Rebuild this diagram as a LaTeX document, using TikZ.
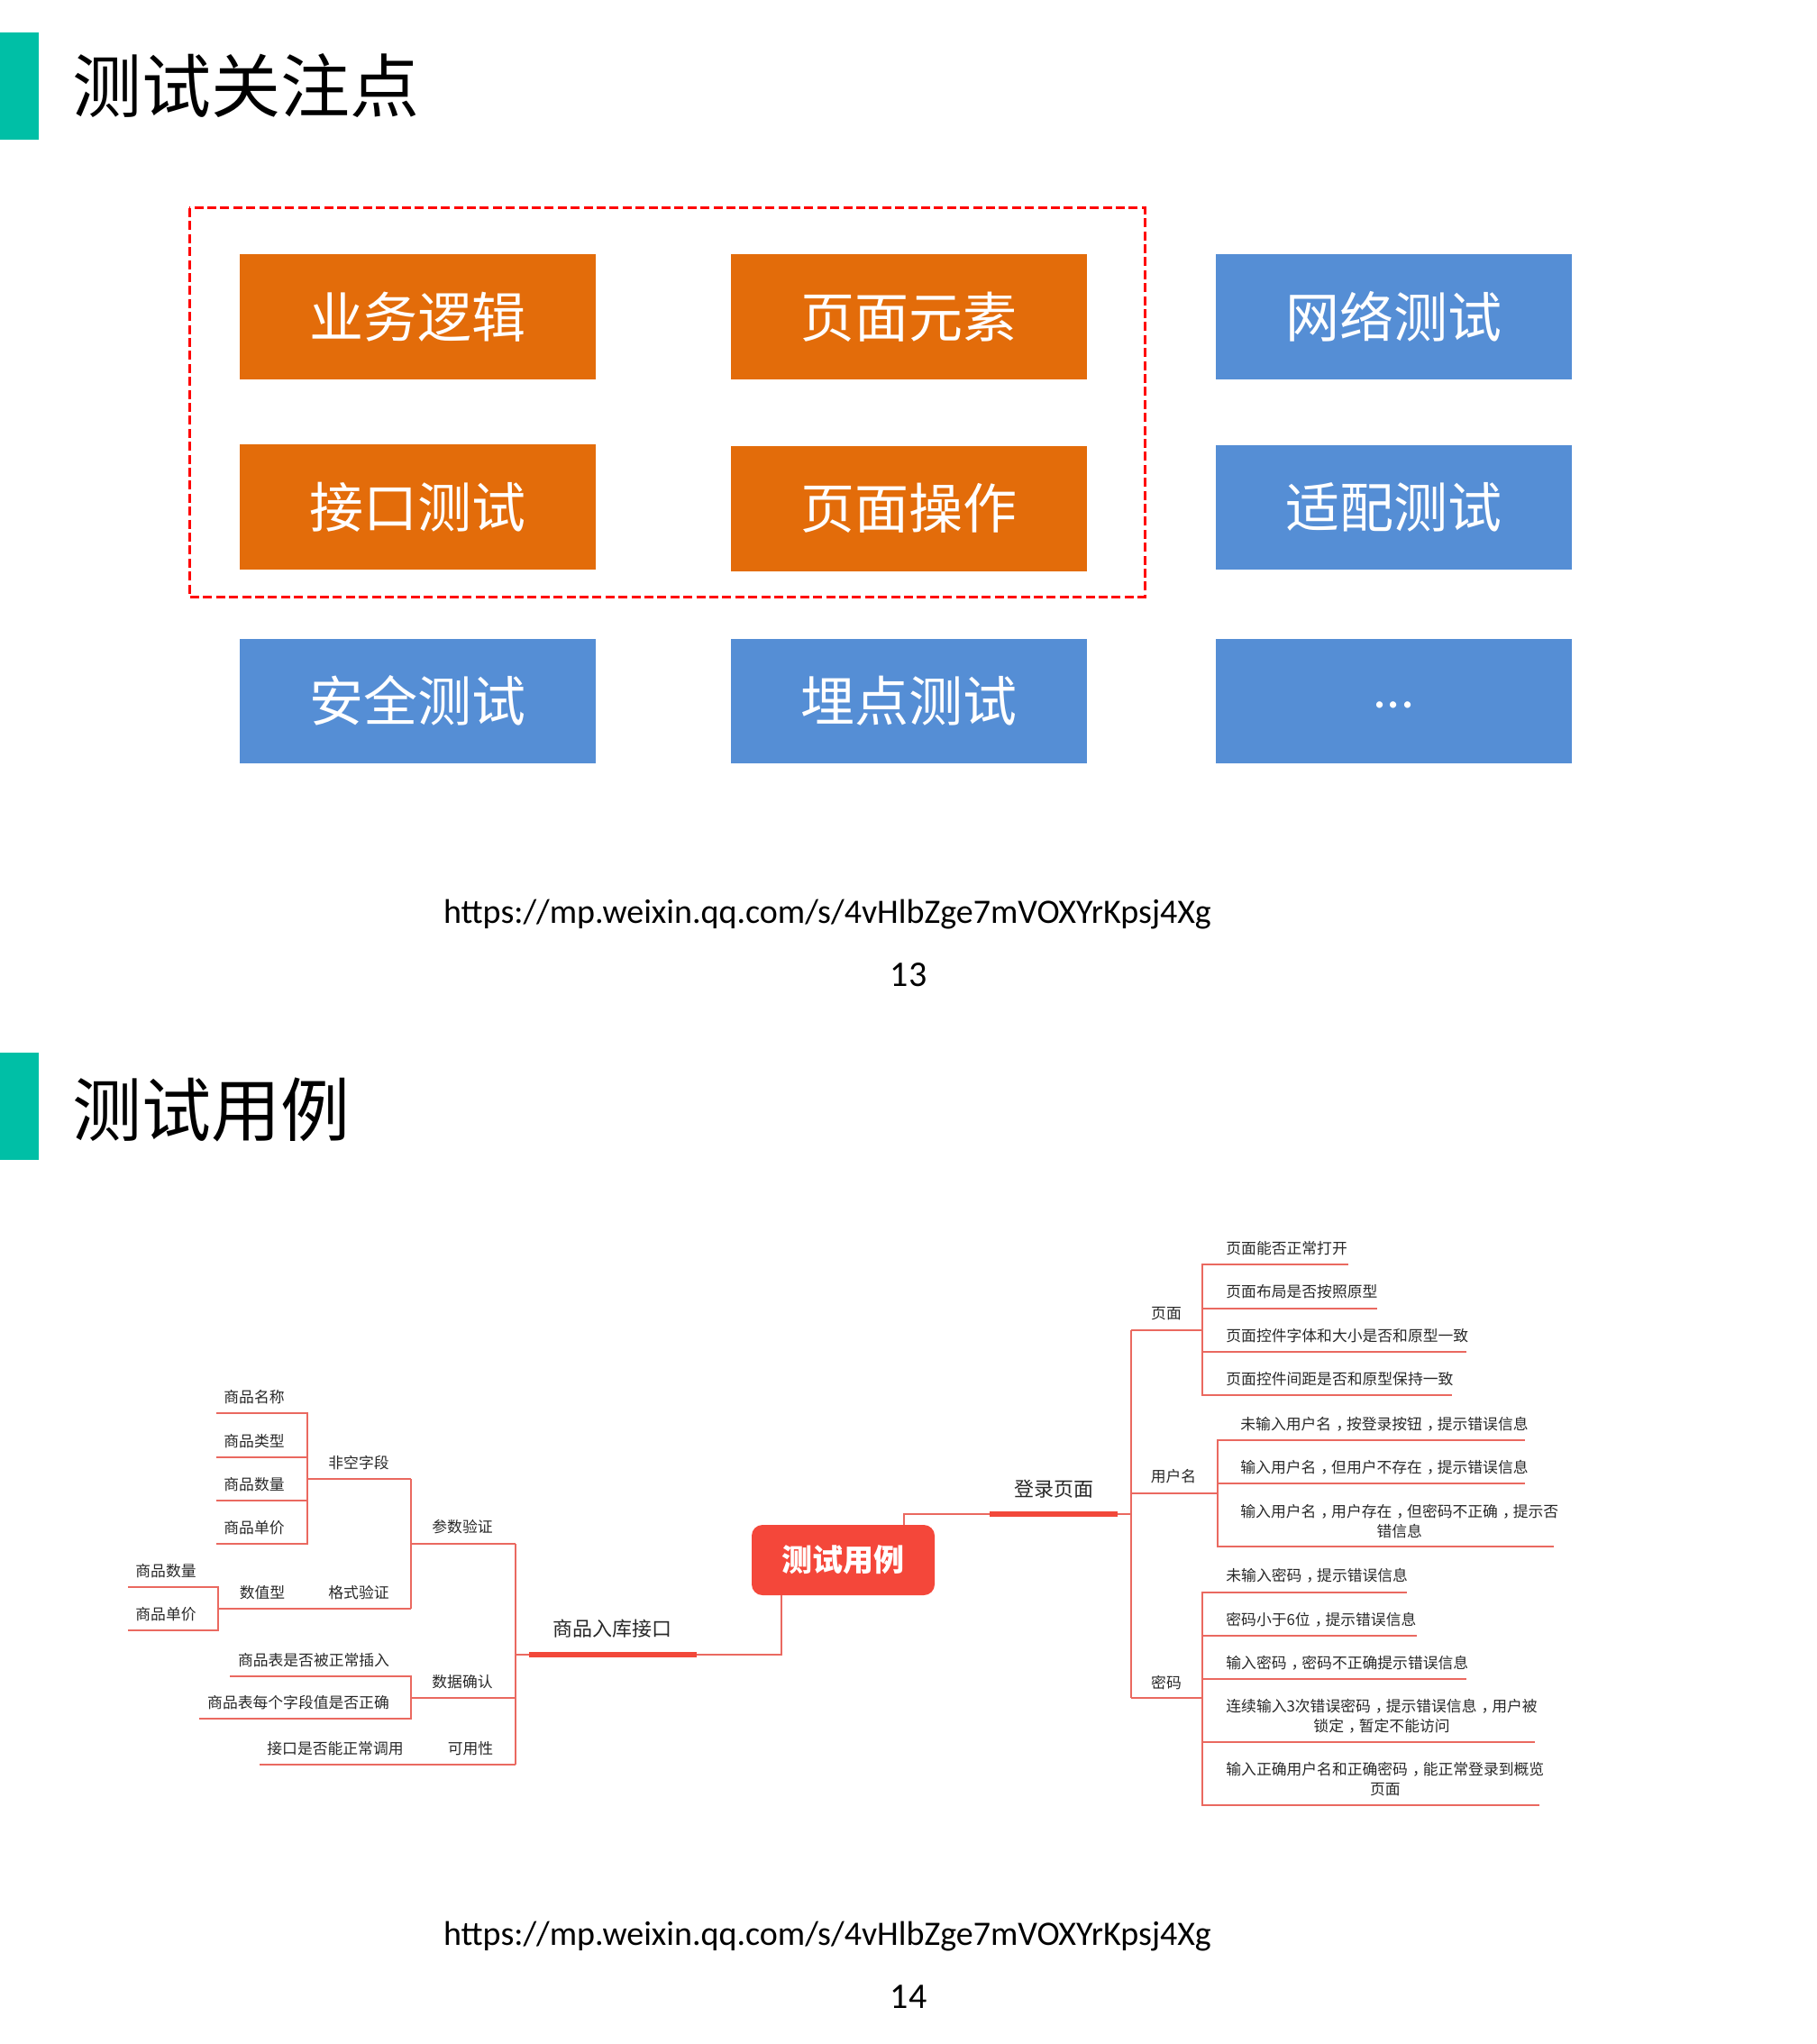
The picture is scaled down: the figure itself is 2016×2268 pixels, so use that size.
\documentclass[tikz,border=0pt]{standalone}
\usepackage{fontspec}
\setmainfont{Noto Sans CJK SC}
\newfontfamily\urlfont{Carlito}
\newcommand{\cmm}{\kern0.3em，\kern-0.3em}
\definecolor{tealbar}{RGB}{0,191,166}
\definecolor{orangebox}{RGB}{227,108,10}
\definecolor{bluebox}{RGB}{85,142,213}
\definecolor{mmthin}{RGB}{234,105,96}
\definecolor{mmthick}{RGB}{242,72,58}
\definecolor{mmcenter}{RGB}{244,71,58}
\definecolor{mmtext}{RGB}{40,40,40}
\tikzset{
  obox/.style={fill=orangebox, text=white, minimum width=197.5pt, minimum height=69.5pt, inner sep=0pt, font=\fontsize{30}{36}\selectfont},
  bbox/.style={fill=bluebox, text=white, minimum width=197.5pt, minimum height=69pt, inner sep=0pt, font=\fontsize{30}{36}\selectfont},
  ttl/.style={anchor=west, inner sep=0pt, font=\fontsize{38.5}{46}\selectfont},
  urltxt/.style={inner sep=0pt, font=\urlfont\fontsize{19}{23}\selectfont},
  numtxt/.style={inner sep=0pt, font=\urlfont\fontsize{20}{24}\selectfont},
  dashbox/.style={draw=red, line width=1.5pt, dash pattern=on 5pt off 2.2pt},
  mline/.style={draw=mmthin, line width=0.7pt},
  mthick/.style={draw=mmthick, line width=3pt},
  leaf/.style={inner sep=0pt, text=mmtext, font=\fontsize{8.4}{11}\selectfont, align=center},
  lvl1/.style={inner sep=0pt, text=mmtext, font=\fontsize{11}{13}\selectfont},
  ctr/.style={fill=mmcenter, text=white, rounded corners=6pt, minimum width=101.5pt, minimum height=39pt, inner sep=0pt, font=\bfseries\fontsize{17}{20}\selectfont}
}
\begin{document}
\begin{tikzpicture}[x=0.5pt,y=-0.5pt]
\useasboundingbox (0,0) rectangle (2016,2268);

% ---------- page 13 ----------
\fill[tealbar] (0,36) rectangle (43,155);
\node[ttl] (t1) at (80,95) {测试关注点};

\draw[dashbox] (210,231) rectangle (1270,662);

\node[obox] (b1) at (463.5,351.5) {业务逻辑};
\node[obox] (b2) at (1008,351.5) {页面元素};
\node[bbox] (b3) at (1546.5,351.5) {网络测试};
\node[obox] (b4) at (463.5,562.5) {接口测试};
\node[obox] (b5) at (1008,564) {页面操作};
\node[bbox] (b6) at (1546.5,562.5) {适配测试};
\node[bbox] (b7) at (463.5,777.5) {安全测试};
\node[bbox] (b8) at (1008,777.5) {埋点测试};
\node[bbox] (b9) at (1546.5,777.5) {\raisebox{-8pt}{\urlfont ...}};

\node[urltxt] (u1) at (918,1015) {https://mp.weixin.qq.com/s/4vHlbZge7mVOXYrKpsj4Xg};
\node[numtxt] (n13) at (1008,1082) {13};

% ---------- page 14 ----------
\fill[tealbar] (0,1168) rectangle (43,1287);
\node[ttl] (t2) at (80,1231) {测试用例};

% central node
\node[ctr] (c) at (935.5,1731) {测试用例};
\coordinate (ctop) at (1003,1692);
\coordinate (cbot) at (867,1770);

% ----- right: 登录页面 -----
\coordinate (lgA) at (1098,1680);
\coordinate (lgB) at (1240,1680);
\coordinate (R) at (1255,1680);
\node[lvl1] (lg) at (1169,1652) {登录页面};
\draw[mline] (ctop) |- (lgA);
\draw[mthick] (lgA) -- (lgB);
\draw[mline] (lgB) -- (R);
\coordinate (Rp) at (1255,1476);
\coordinate (Ru) at (1255,1657);
\coordinate (Rm) at (1255,1884);
\draw[mline] (Rp) -- (Rm);

% 页面
\coordinate (pv) at (1334,1476);
\node[leaf] (pl) at (1294,1458) {页面};
\draw[mline] (Rp) -- (pv);
\coordinate (p1e) at (1496,1403);
\coordinate (p2e) at (1528,1452);
\coordinate (p3e) at (1627,1500);
\coordinate (p4e) at (1611,1548);
\foreach \e in {p1e,p2e,p3e,p4e} \draw[mline] (pv) |- (\e);
\node[leaf, anchor=west] (p1) at (1360,1385) {页面能否正常打开};
\node[leaf, anchor=west] (p2) at (1360,1433) {页面布局是否按照原型};
\node[leaf, anchor=west] (p3) at (1360,1482) {页面控件字体和大小是否和原型一致};
\node[leaf, anchor=west] (p4) at (1360,1530) {页面控件间距是否和原型保持一致};

% 用户名
\coordinate (uv) at (1351,1657);
\node[leaf] (ul) at (1302,1638) {用户名};
\draw[mline] (Ru) -- (uv);
\coordinate (u1e) at (1692,1598);
\coordinate (u2e) at (1692,1646);
\coordinate (u3e) at (1724,1716);
\foreach \e in {u1e,u2e,u3e} \draw[mline] (uv) |- (\e);
\node[leaf, anchor=west] (uu1) at (1376,1580) {未输入用户名\cmm 按登录按钮\cmm 提示错误信息};
\node[leaf, anchor=west] (uu2) at (1376,1628) {输入用户名\cmm 但用户不存在\cmm 提示错误信息};
\node[leaf, anchor=west] (uu3) at (1376,1688) {输入用户名\cmm 用户存在\cmm 但密码不正确\cmm 提示否\\错信息};

% 密码
\coordinate (mv) at (1334,1884);
\node[leaf] (ml) at (1294,1867) {密码};
\draw[mline] (Rm) -- (mv);
\coordinate (m1e) at (1561,1767);
\coordinate (m2e) at (1572,1815);
\coordinate (m3e) at (1627,1863);
\coordinate (m4e) at (1703,1933);
\coordinate (m5e) at (1708,2003);
\foreach \e in {m1e,m2e,m3e,m4e,m5e} \draw[mline] (mv) |- (\e);
\node[leaf, anchor=west] (mm1) at (1360,1748) {未输入密码\cmm 提示错误信息};
\node[leaf, anchor=west] (mm2) at (1360,1797) {密码小于6位\cmm 提示错误信息};
\node[leaf, anchor=west] (mm3) at (1360,1845) {输入密码\cmm 密码不正确提示错误信息};
\node[leaf, anchor=west] (mm4) at (1360,1904) {连续输入3次错误密码\cmm 提示错误信息\cmm 用户被\\锁定\cmm 暂定不能访问};
\node[leaf, anchor=west] (mm5) at (1360,1974) {输入正确用户名和正确密码\cmm 能正常登录到概览\\页面};

% ----- left: 商品入库接口 -----
\coordinate (spA) at (773,1836);
\coordinate (spB) at (587,1836);
\coordinate (L) at (572,1836);
\node[lvl1] (sp) at (679,1807) {商品入库接口};
\draw[mline] (cbot) |- (spA);
\draw[mthick] (spA) -- (spB);
\draw[mline] (spB) -- (L);
\coordinate (La) at (572,1713);
\coordinate (Lb) at (572,1884);
\coordinate (Lc) at (572,1958);
\draw[mline] (La) -- (Lc);

% 参数验证
\coordinate (cv) at (456,1713);
\node[leaf] (cl) at (513,1694) {参数验证};
\draw[mline] (La) -- (cv);
\coordinate (fk) at (456,1641);
\coordinate (gs) at (456,1785);
\draw[mline] (fk) -- (gs);
% 非空字段
\coordinate (fv) at (341,1641);
\node[leaf] (fl) at (398,1623) {非空字段};
\draw[mline] (fk) -- (fv);
\coordinate (f1e) at (240,1568);
\coordinate (f2e) at (240,1617);
\coordinate (f3e) at (240,1665);
\coordinate (f4e) at (240,1713);
\foreach \e in {f1e,f2e,f3e,f4e} \draw[mline] (fv) |- (\e);
\node[leaf] (f1) at (282,1550) {商品名称};
\node[leaf] (f2) at (282,1599) {商品类型};
\node[leaf] (f3) at (282,1647) {商品数量};
\node[leaf] (f4) at (282,1695) {商品单价};
% 格式验证 / 数值型
\coordinate (sv) at (242,1785);
\node[leaf] (gl) at (398,1767) {格式验证};
\node[leaf] (sl) at (291,1767) {数值型};
\draw[mline] (gs) -- (sv);
\coordinate (s1e) at (142,1761);
\coordinate (s2e) at (142,1809);
\foreach \e in {s1e,s2e} \draw[mline] (sv) |- (\e);
\node[leaf] (s1) at (184,1743) {商品数量};
\node[leaf] (s2) at (184,1791) {商品单价};

% 数据确认
\coordinate (dv) at (456,1884);
\node[leaf] (dl) at (513,1866) {数据确认};
\draw[mline] (Lb) -- (dv);
\coordinate (d1e) at (255,1860);
\coordinate (d2e) at (221,1907);
\foreach \e in {d1e,d2e} \draw[mline] (dv) |- (\e);
\node[leaf] (d1) at (348,1842) {商品表是否被正常插入};
\node[leaf] (d2) at (331,1889) {商品表每个字段值是否正确};

% 可用性
\coordinate (k1e) at (288,1958);
\node[leaf] (kl) at (522,1940) {可用性};
\node[leaf] (k1) at (372,1940) {接口是否能正常调用};
\draw[mline] (Lc) -- (k1e);

\node[urltxt] (u2) at (918,2149) {https://mp.weixin.qq.com/s/4vHlbZge7mVOXYrKpsj4Xg};
\node[numtxt] (n14) at (1008,2216) {14};
\end{tikzpicture}
\end{document}
